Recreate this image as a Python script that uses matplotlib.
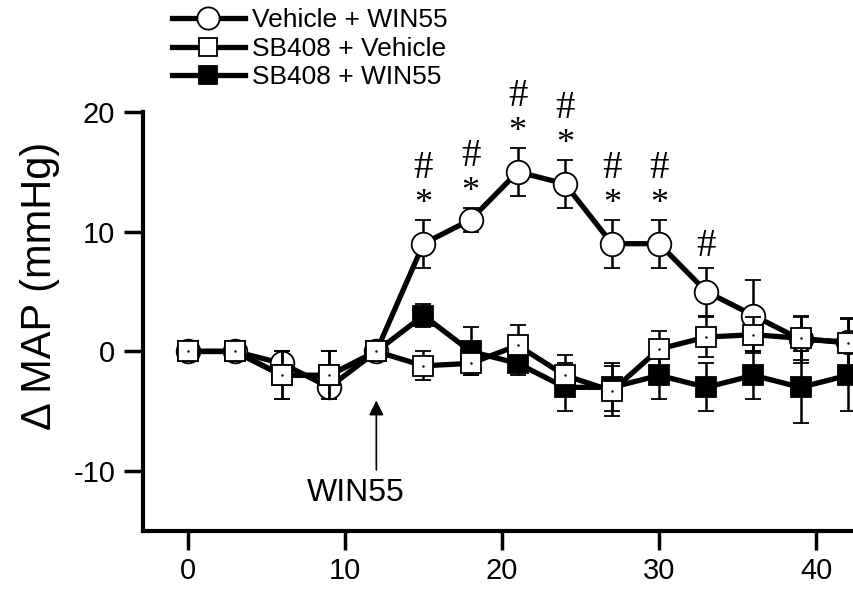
import matplotlib
matplotlib.use("Agg")
import matplotlib.pyplot as plt
from matplotlib.lines import Line2D

plt.rcParams['font.family'] = ['Liberation Sans', 'DejaVu Sans']
plt.rcParams['axes.unicode_minus'] = False

time = [0, 3, 6, 9, 12, 15, 18, 21, 24, 27, 30, 33, 36, 39, 42]

veh_win = [0, 0, -1, -3, 0, 9, 11, 15, 14, 9, 9, 5, 3, 1, 0.8]
veh_win_err = [0.3, 0.8, 1, 1, 0.3, 2, 1, 2, 2, 2, 2, 2, 3, 2, 2]

sb_veh = [0, 0, -2, -2, 0, -1.2, -1, 0.5, -2, -3.3, 0.2, 1.2, 1.4, 1.1, 0.7]
sb_veh_err = [0.3, 0.8, 2, 2, 0.3, 1.2, 1, 1.7, 1.7, 2.1, 1.5, 1.7, 1.5, 1.8, 2]

sb_win = [0, 0, -2, -2, 0, 3, 0, -1, -3, -3, -2, -3, -2, -3, -2]
sb_win_err = [0.3, 0.8, 2, 2, 0.3, 1, 2, 1, 2, 2, 2, 2, 2, 3, 3]

labels = ["Vehicle + WIN55", "SB408 + Vehicle", "SB408 + WIN55"]
star_times = [15, 18, 21, 24, 27, 30]
hash_times = [15, 18, 21, 24, 27, 30, 33]

xticks = [0, 10, 20, 30, 40]
yticks = [-10, 0, 10, 20]
ylabel = "\u0394 MAP (mmHg)"
arrow_label = "WIN55"
arrow_time = 12

fig = plt.figure(figsize=(8.54, 5.91), dpi=100)
ax = fig.add_axes([143/854, 1-531/591, 1-143/854, (531-112)/591])

lw = 3.8
common = dict(ecolor='black', elinewidth=1.8, capsize=6, capthick=1.8, color='black', lw=lw)

ax.errorbar(time, veh_win, yerr=veh_win_err, marker='o', ms=17, mfc='white', mec='black',
            mew=1.3, zorder=3, **common)
ax.errorbar(time, sb_win, yerr=sb_win_err, marker='s', ms=14, mfc='black', mec='black',
            mew=1.3, zorder=4, **common)
ax.errorbar(time, sb_veh, yerr=sb_veh_err, marker='s', ms=14, mfc='white', mec='black',
            mew=1.3, zorder=5, **common)
ax.plot(time, sb_veh, ls='none', marker='.', ms=1.5, color='black', zorder=6)

# significance marks
serif = ['Liberation Serif', 'DejaVu Serif']
for t in hash_times:
    i = time.index(t)
    top = veh_win[i] + veh_win_err[i]
    if t in star_times:
        ax.text(t, top + 1.3, '*', ha='center', va='center', fontsize=26,
                family=serif, clip_on=False, zorder=7)
        ax.text(t, top + 4.3, '#', ha='center', va='center', fontsize=28,
                family=serif, clip_on=False, zorder=7)
    else:
        ax.text(t, top + 1.8, '#', ha='center', va='center', fontsize=28,
                family=serif, clip_on=False, zorder=7)

# WIN55 arrow
ax.annotate('', xy=(arrow_time, -4.1), xytext=(arrow_time, -9.9),
            arrowprops=dict(arrowstyle='-|>', color='black', lw=1.2,
                            mutation_scale=22, shrinkA=0, shrinkB=0))
ax.text(arrow_time - 1.3, -11.8, arrow_label, ha='center', va='center', fontsize=23)

ax.set_xlim(-2.85, 42.4)
ax.set_ylim(-15, 20)
ax.set_xticks(xticks)
ax.set_yticks(yticks)
ax.tick_params(axis='both', labelsize=21, width=2.5, length=14, direction='out')
ax.tick_params(axis='y', pad=6)
ax.tick_params(axis='x', pad=5)
for s in ['top', 'right']:
    ax.spines[s].set_visible(False)
for s in ['left', 'bottom']:
    ax.spines[s].set_linewidth(3)
ax.spines['left'].set_bounds(-15, 20)
ax.set_ylabel(ylabel, fontsize=30)
ax.yaxis.set_label_coords(-0.117, 0.585)

handles = [
    Line2D([], [], color='black', lw=lw, marker='o', ms=16, mfc='white', mec='black', mew=1.3),
    Line2D([], [], color='black', lw=lw, marker='s', ms=13, mfc='white', mec='black', mew=1.3),
    Line2D([], [], color='black', lw=lw, marker='s', ms=13, mfc='black', mec='black', mew=1.3),
]
fig.legend(handles, labels, loc='upper left', bbox_to_anchor=(172/854, 1-8/591),
           frameon=False, fontsize=19, handlelength=2.75, handletextpad=0.27,
           labelspacing=0.18, borderpad=0, borderaxespad=0)

fig.savefig('out.png', dpi=100)
